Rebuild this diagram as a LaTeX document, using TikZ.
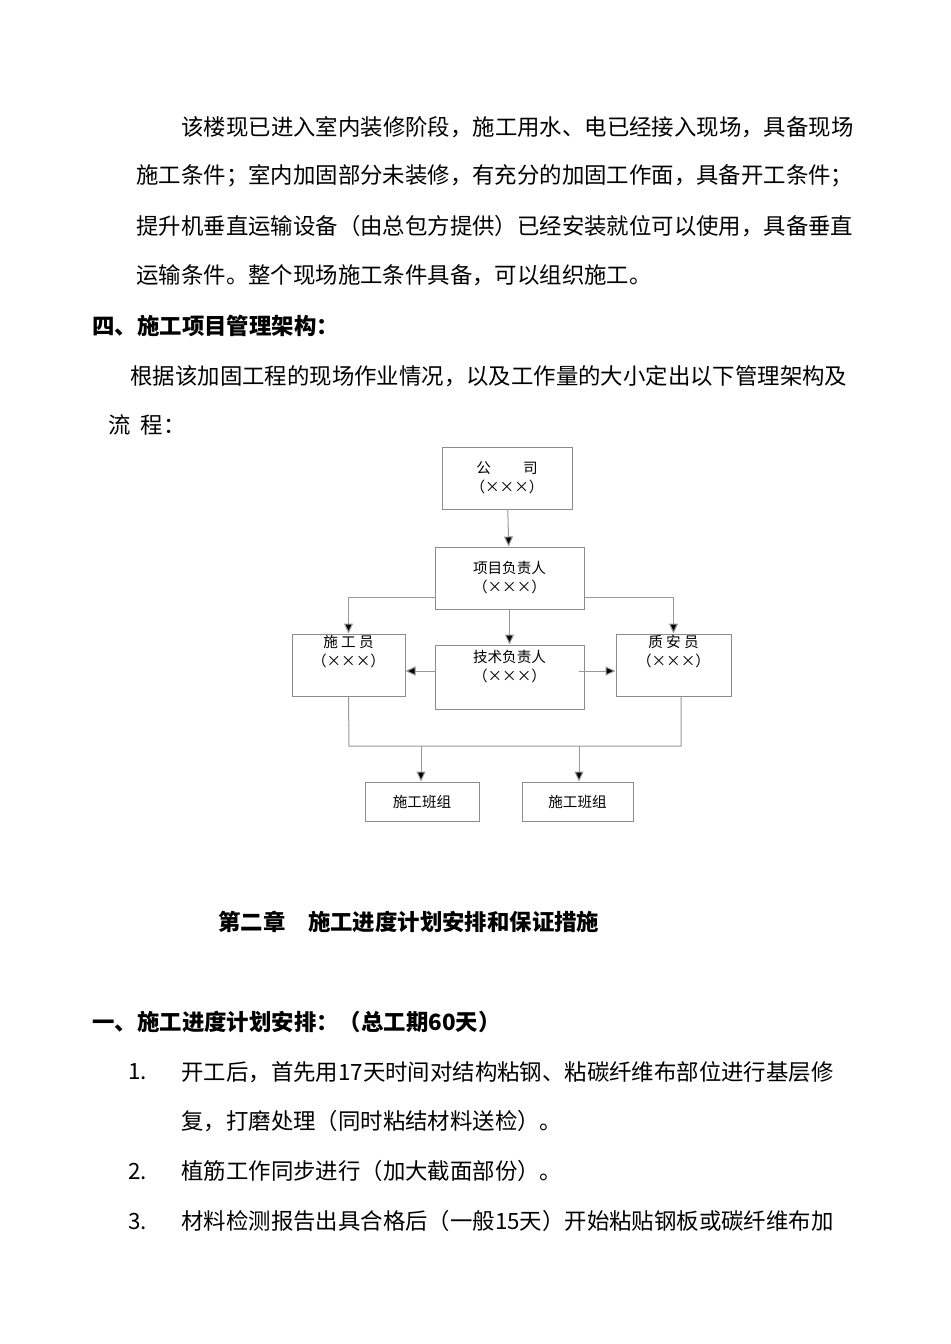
\documentclass[tikz,border=0pt]{standalone}
\usepackage{fontspec}
\setmainfont{Liberation Serif}
\newfontfamily\cjk{Noto Sans CJK SC}
\usetikzlibrary{arrows.meta}
\begin{document}
\begin{tikzpicture}[x=0.5pt,y=-0.5pt,
  body/.style={anchor=west,inner sep=0,font=\cjk\fontsize{11.2}{14}\selectfont},
  bodyb/.style={anchor=west,inner sep=0,font=\cjk\bfseries\fontsize{11.2}{14}\selectfont},
  box/.style={draw=black!45,line width=0.5pt,inner sep=0,align=center,font=\cjk\fontsize{7.3}{9.5}\selectfont},
  ln/.style={draw=black!40,line width=0.5pt},
  ar/.style={ln,-{Triangle[length=5pt,width=4.5pt,fill=black]}}]
\useasboundingbox[fill=white] (0,0) rectangle (950,1344);
\node[body] (t1) at (181,127) {该楼现已进入室内装修阶段，施工用水、电已经接入现场，具备现场};
\node[body] (t2) at (136,176) {施工条件；室内加固部分未装修，有充分的加固工作面，具备开工条件；};
\node[body] (t3) at (136,226) {提升机垂直运输设备（由总包方提供）已经安装就位可以使用，具备垂直};
\node[body] (t4) at (136,275) {运输条件。整个现场施工条件具备，可以组织施工。};
\node[bodyb] (h1) at (92,326) {四、施工项目管理架构：};
\node[body] (t5) at (130,376) {根据该加固工程的现场作业情况，以及工作量的大小定出以下管理架构及};
\node[body] (t6) at (108,425) {流\ \ 程：};
% chart
\node[box,minimum width=65pt,minimum height=31pt] (gs) at (507,478) {公\hspace{2.2em}司\\（×××）};
\node[box,minimum width=74.5pt,minimum height=31pt] (xm) at (509.5,578) {项目负责人\\（×××）};
\node[box,minimum width=56.5pt,minimum height=31pt] (sg) at (348.5,665) {施\ 工\ 员\\（×××）\\[0.6em]};
\node[box,minimum width=74.5pt,minimum height=32pt] (js) at (509.5,677) {技术负责人\\（×××）\\[0.2em]};
\node[box,minimum width=57.5pt,minimum height=31pt] (za) at (673.5,665) {质\ 安\ 员\\（×××）\\[0.6em]};
\node[box,minimum width=57pt,minimum height=19.5pt] (b1) at (422,801.5) {施工班组};
\node[box,minimum width=55.5pt,minimum height=19.5pt] (b2) at (577.5,801.5) {施工班组};
\coordinate (jl) at (349,746);
\coordinate (jr) at (681,746);
\draw[ar] (gs) -- (xm);
\draw[ar] (xm.south) -- (js.north);
\draw[ar] (xm.west |- 0,597) -| (sg.north);
\draw[ar] (xm.east |- 0,597) -| (za.north);
\draw[ar] (js.west |- 0,671) -- (sg.east |- 0,671);
\draw[ar] (579,671) -- (za.west |- 0,671);
\draw[ln] (sg.south) -- (jl) -- (jr) -- (681,696);
\draw[ar] (421,746) -- (b1.north -| 421,0);
\draw[ar] (579,746) -- (b2.north -| 579,0);
% chapter
\node[bodyb] (c2) at (218,922) {第二章\hspace{1em}施工进度计划安排和保证措施};
\node[bodyb] (h2) at (92,1022) {一、施工进度计划安排：（总工期60天）};
\node[body] (n1) at (128,1072) {1.};
\node[body] (l1) at (181,1072) {开工后，首先用17天时间对结构粘钢、粘碳纤维布部位进行基层修};
\node[body] (l1b) at (181,1121) {复，打磨处理（同时粘结材料送检）。};
\node[body] (n2) at (128,1171) {2.};
\node[body] (l2) at (181,1171) {植筋工作同步进行（加大截面部份）。};
\node[body] (n3) at (128,1221) {3.};
\node[body] (l3) at (181,1221) {材料检测报告出具合格后（一般15天）开始粘贴钢板或碳纤维布加};
\end{tikzpicture}
\end{document}
